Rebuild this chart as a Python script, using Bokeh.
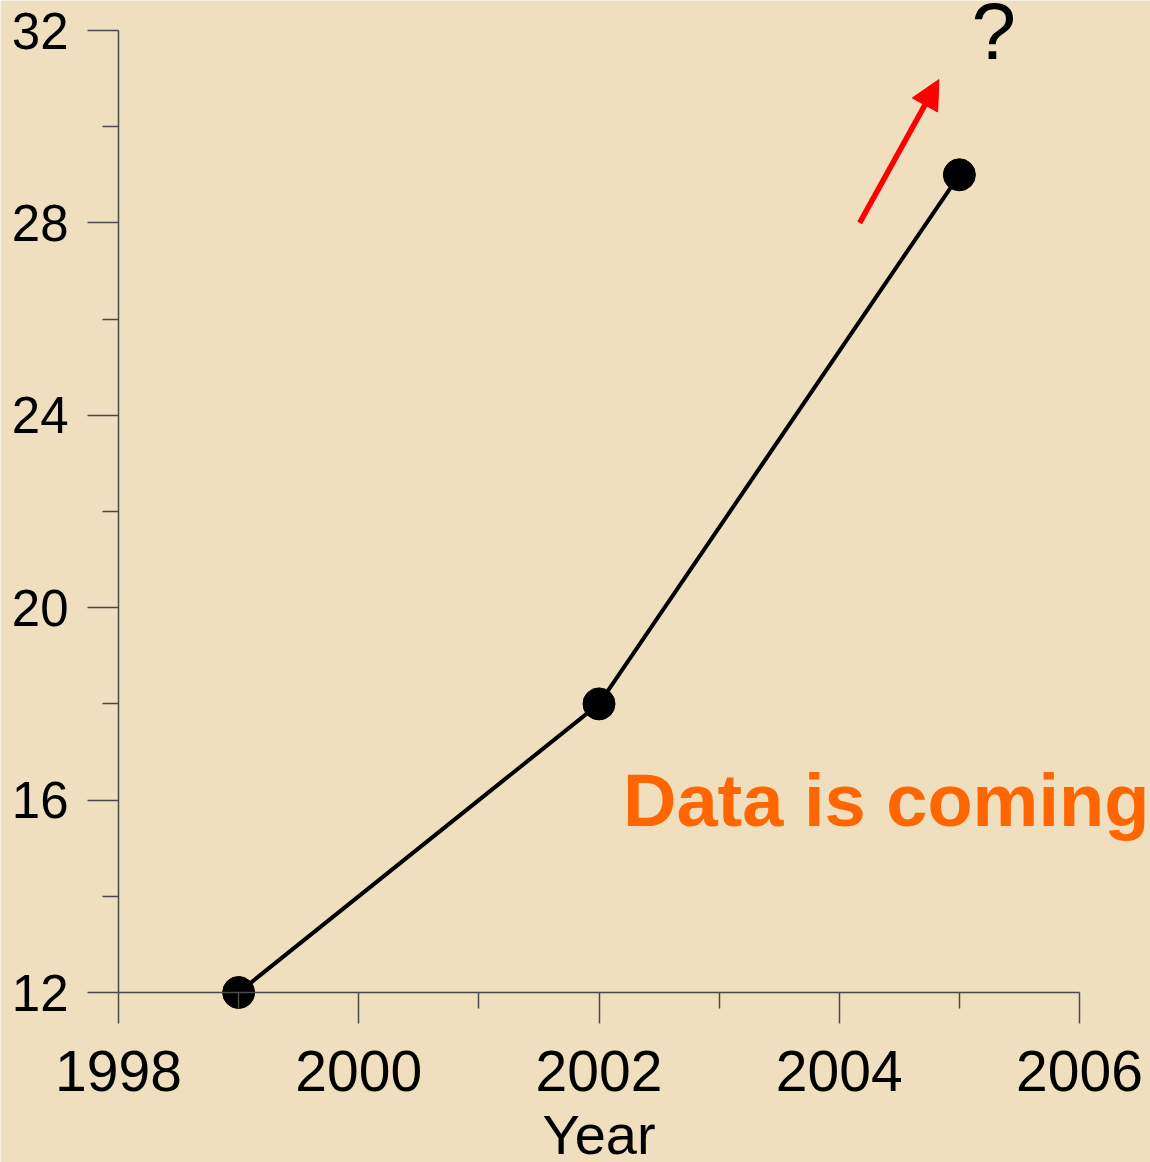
from bokeh.plotting import figure
from bokeh.models import Range1d, FixedTicker, Label, Arrow, NormalHead
from bokeh.embed import file_html
from bokeh.resources import INLINE

# ---- data ----
years = [1999, 2002, 2005]
values = [12, 18, 29]

x_ticks = [1998, 2000, 2002, 2004, 2006]
x_minor = [1999, 2001, 2003, 2005]
y_ticks = [12, 16, 20, 24, 28, 32]
y_minor = [14, 18, 22, 26, 30]

arrow_start = (2004.17, 28.0)
arrow_end = (2004.83, 30.98)

BG = "#EFDFBF"
FONT = "Liberation Sans"

W, H = 1150, 1162
# frame covers the whole figure; axis extents: x 1998..2006 at px 118..1079, y 32..12 at px 30..992
xpx = (1079 - 118) / 8.0
ypx = (992 - 30) / 20.0
x0 = 1998 - 118 / xpx
x1 = 2006 + (W - 1079) / xpx
y1 = 32 + 30 / ypx
y0 = 12 - (H - 992) / ypx

p = figure(width=W, height=H, output_backend="svg", toolbar_location=None,
           x_range=Range1d(x0, x1), y_range=Range1d(y0, y1),
           min_border=0)
p.background_fill_color = BG
p.border_fill_color = BG
p.outline_line_color = None
p.grid.visible = False

p.xaxis.fixed_location = 12
p.yaxis.fixed_location = 1998
p.xaxis.bounds = (1998, 2006)
p.yaxis.bounds = (12, 32)

for ax in (p.xaxis[0], p.yaxis[0]):
    ax.axis_line_color = "#4a4a4a"
    ax.axis_line_width = 1.5
    ax.major_tick_line_color = "#4a4a4a"
    ax.minor_tick_line_color = "#4a4a4a"
    ax.major_tick_line_width = 1.5
    ax.minor_tick_line_width = 1.5
    ax.major_tick_in = 0
    ax.major_tick_out = 31
    ax.minor_tick_in = 0
    ax.minor_tick_out = 16
    ax.major_label_text_font = FONT
    ax.major_label_text_color = "black"

p.xaxis.ticker = FixedTicker(ticks=x_ticks, minor_ticks=x_minor)
p.yaxis.ticker = FixedTicker(ticks=y_ticks, minor_ticks=y_minor)
p.xaxis.major_label_text_font_size = "57px"
p.yaxis.major_label_text_font_size = "51px"
p.xaxis.major_label_standoff = 27
p.yaxis.major_label_standoff = 19

p.line(years, values, line_color="black", line_width=4)
p.scatter(years, values, size=32, fill_color="black", line_color="black")

p.add_layout(Arrow(x_start=arrow_start[0], y_start=arrow_start[1],
                   x_end=arrow_end[0], y_end=arrow_end[1],
                   line_color="red", line_width=5.5,
                   end=NormalHead(size=29, fill_color="red", line_color="red", line_width=1)))

p.add_layout(Label(x=2005.1, y=31.97, text="?", text_font=FONT, text_font_size="80px",
                   text_color="black", text_baseline="alphabetic"))
p.add_layout(Label(x=2002.2, y=15.99, text="Data is coming", text_font=FONT,
                   text_font_size="74px", text_font_style="bold", text_color="#FF6600",
                   text_baseline="alphabetic"))
p.add_layout(Label(x=2002, y=9.7, text="Year", text_font=FONT, text_font_size="56px",
                   text_color="black", text_align="center", text_baseline="top"))

open("out.html", "w").write(file_html(p, INLINE))
